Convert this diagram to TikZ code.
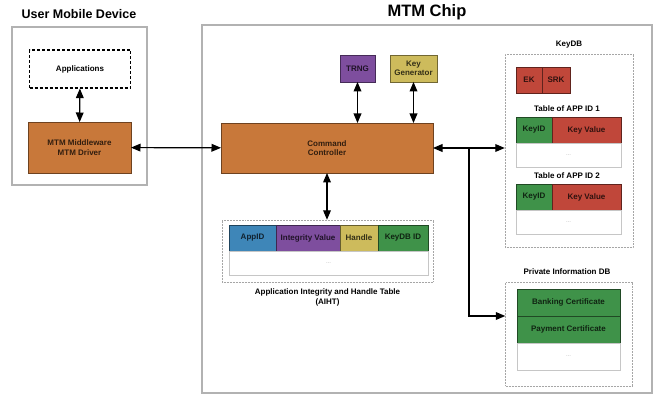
\documentclass[tikz,border=0pt]{standalone}
\usepackage{fontspec}
\setmainfont{Liberation Sans}
\usetikzlibrary{positioning}
\usetikzlibrary{arrows}

\definecolor{mtmorange}{HTML}{C8783A}
\definecolor{trngpurple}{HTML}{7E4E9E}
\definecolor{keyyellow}{HTML}{CDBB5C}
\definecolor{appblue}{HTML}{3E86B8}
\definecolor{keygreen}{HTML}{3F9249}
\definecolor{keyred}{HTML}{C0473A}

\tikzset{
  outerbox/.style={draw=gray!60, line width=1.2pt},
  dbbox/.style={draw=gray!70, densely dotted, line width=0.5pt},
  appbox/.style={draw=black, line width=1.2pt, dash pattern=on 3pt off 2pt,
    minimum width=101pt, minimum height=38pt},
  block/.style={draw=#1!55!black, fill=#1, text=#1!25!black, line width=0.6pt,
    align=center, inner sep=0pt, outer sep=0pt},
  cell/.style={draw=#1!50!black, fill=#1, text=#1!25!black, line width=0.6pt,
    minimum height=26pt, inner sep=0pt, outer sep=0pt},
  emptyrow/.style={draw=gray!45, fill=white, text=gray!60, line width=0.8pt,
    minimum height=24pt, inner sep=0pt, outer sep=0pt, font=\fontsize{6}{7}\selectfont},
  link/.style={line width=1.2pt}
}

\begin{document}
\begin{tikzpicture}[x=1pt,y=-1pt,>=triangle 45,font=\bfseries\fontsize{8}{9.5}\selectfont]
  \useasboundingbox (0,0) rectangle (657,396);

  % user mobile device
  \node (umdtitle) at (79,14) {\fontsize{12.5}{15}\selectfont User Mobile Device};
  \node[outerbox, minimum width=135pt, minimum height=158pt] (umd) at (79.5,106) {};
  \node[appbox] (apps) at (80,69) {Applications};
  \node[block=mtmorange, minimum width=103pt, minimum height=51pt] (mw) at (79.5,147.5) {MTM Middleware\\MTM Driver};

  % mtm chip
  \node (chiptitle) at (427,12) {\fontsize{16.5}{19}\selectfont MTM Chip};
  \node[outerbox, minimum width=450pt, minimum height=368pt] (chip) at (427,209) {};
  \node[block=mtmorange, minimum width=212pt, minimum height=50pt] (ctrl) at (327,148) {Command\\Controller};
  \node[block=trngpurple, minimum width=35pt, minimum height=27pt] (trng) at (357.5,68.5) {TRNG};
  \node[block=keyyellow, minimum width=47pt, minimum height=27pt] (keygen) at (413.5,68.5) {Key\\Generator};

  % AIHT
  \node[dbbox, minimum width=211pt, minimum height=62pt] (aiht) at (327.5,251) {};
  \node[cell=appblue, minimum width=47pt, anchor=north west] (appid) at (229,225) {AppID};
  \node[cell=trngpurple, minimum width=64pt, right=0pt of appid] (integ) {Integrity Value};
  \node[cell=keyyellow, minimum width=38pt, right=0pt of integ] (handle) {Handle};
  \node[cell=keygreen, minimum width=50pt, right=0pt of handle] (kdbid) {KeyDB ID};
  \node[emptyrow, minimum width=199pt, anchor=north west] (aihtrow) at (appid.south west) {...};
  \node[align=center, below=3pt of aiht] (aihtlabel) {Application Integrity and Handle Table\\(AIHT)};

  % KeyDB
  \node (keydbtitle) at (569,45) {KeyDB};
  \node[dbbox, minimum width=128pt, minimum height=193pt] (keydb) at (569,150.5) {};
  \node[cell=keyred, minimum width=26pt, anchor=north west] (ek) at (516,67) {EK};
  \node[cell=keyred, minimum width=28pt, right=0pt of ek] (srk) {SRK};
  \node (tab1title) at (567,109) {Table of APP ID 1};
  \node[cell=keygreen, minimum width=36pt, anchor=north west] (keyid1) at (516,117) {KeyID};
  \node[cell=keyred, minimum width=69pt, right=0pt of keyid1] (keyval1) {Key Value};
  \node[emptyrow, minimum width=105pt, anchor=north west] (tab1row) at (keyid1.south west) {...};
  \node (tab2title) at (567,176) {Table of APP ID 2};
  \node[cell=keygreen, minimum width=36pt, anchor=north west] (keyid2) at (516,184) {KeyID};
  \node[cell=keyred, minimum width=69pt, right=0pt of keyid2] (keyval2) {Key Value};
  \node[emptyrow, minimum width=105pt, anchor=north west] (tab2row) at (keyid2.south west) {...};

  % private information db
  \node (pdbtitle) at (567,272) {Private Information DB};
  \node[dbbox, minimum width=127pt, minimum height=104pt] (pdb) at (569,334) {};
  \node[cell=keygreen, minimum width=103pt, minimum height=27pt, anchor=north west] (bank) at (517,289) {Banking Certificate};
  \node[cell=keygreen, minimum width=103pt, minimum height=27pt, anchor=north west] (pay) at (bank.south west) {Payment Certificate};
  \node[emptyrow, minimum width=103pt, minimum height=27pt, anchor=north west] (pdbrow) at (pay.south west) {...};

  % connectors
  \draw[link,<->] (apps) -- (mw);
  \draw[link,<->] (mw) -- (ctrl);
  \draw[link,<->] (trng) -- (trng |- ctrl.north);
  \draw[link,<->] (keygen) -- (keygen |- ctrl.north);
  \draw[link,<->] (ctrl) -- (ctrl |- aiht.north);
  \draw[link,<->] (ctrl.east) -- (ctrl.east -| keydb.west);
  \coordinate (split) at (469,148);
  \draw[link,->] (split) |- (pdb.west |- pay.north);
\end{tikzpicture}
\end{document}
